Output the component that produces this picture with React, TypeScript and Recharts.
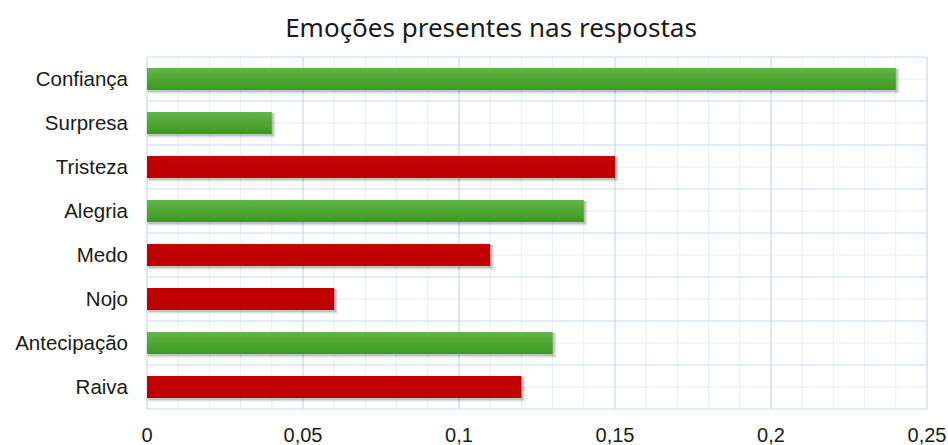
import { Bar, BarChart, CartesianGrid, XAxis, YAxis } from 'recharts'

const categories = ['Confiança', 'Surpresa', 'Tristeza', 'Alegria', 'Medo', 'Nojo', 'Antecipação', 'Raiva']
const values = [0.24, 0.04, 0.15, 0.14, 0.11, 0.06, 0.13, 0.12]
const polarity = ['pos', 'pos', 'neg', 'pos', 'neg', 'neg', 'pos', 'neg']
const majorTicks = [0, 0.05, 0.1, 0.15, 0.2, 0.25]
const minorTicks = [
  0, 0.01, 0.02, 0.03, 0.04, 0.05, 0.06, 0.07, 0.08, 0.09, 0.1, 0.11, 0.12, 0.13, 0.14, 0.15, 0.16, 0.17,
  0.18, 0.19, 0.2, 0.21, 0.22, 0.23, 0.24, 0.25,
]

const rows = categories.map((name, i) => ({ name, value: values[i], polarity: polarity[i] }))

const font = '"Liberation Sans", Arial, sans-serif'
const titleFont = '"Noto Sans", sans-serif'
const fmt = (v: number) => String(v).replace('.', ',')

if (typeof document !== 'undefined') document.body.style.margin = '0'

// x position of a value: library scale if we get it, else plot offset
function xPos(props: any, t: number) {
  const s = props?.xAxis?.scale
  if (typeof s === 'function') return s(t)
  const o = props.offset
  return o.left + (t / 0.25) * o.width
}

const minorVertical = (props: any) => minorTicks.map((t) => xPos(props, t))
const majorVertical = (props: any) => majorTicks.map((t) => xPos(props, t))
// horizontal lines: band edges (major) and band centres (minor)
const bandLines = (props: any, centre: boolean) => {
  const o = props.offset
  const step = o.height / categories.length
  const out: number[] = []
  for (let i = 0; i <= categories.length; i++) {
    if (centre && i === categories.length) break
    out.push(o.top + step * i + (centre ? step / 2 : 0))
  }
  return out
}

// bar with soft drop shadow + vertical gradient
function ShadedBar(props: any) {
  const { x, y, width, height, index, payload } = props
  if (!(width > 0)) return null
  const pos = payload?.polarity === 'pos'
  const id = 'g' + index
  const top = pos ? '#62b548' : '#c40202'
  const bottom = pos ? '#3c991e' : '#bb0000'
  return (
    <g>
      <defs>
        <linearGradient id={id} x1="0" y1="0" x2="0" y2="1">
          <stop offset="0%" stopColor={top} />
          <stop offset="100%" stopColor={bottom} />
        </linearGradient>
      </defs>
      <rect x={x + 1} y={y + 1} width={width + 3} height={height + 3} fill="#000" opacity={0.05} />
      <rect x={x + 1} y={y + 1} width={width + 2} height={height + 2} fill="#000" opacity={0.08} />
      <rect x={x + 1} y={y + 1} width={width + 1} height={height + 1} fill="#000" opacity={0.12} />
      <rect x={x} y={y} width={width} height={height} fill={`url(#${id})`} />
    </g>
  )
}

export default function App() {
  return (
    <div style={{ position: 'relative', width: 948, height: 445, background: '#fff', fontFamily: font }}>
      <div
        style={{
          position: 'absolute',
          left: 491,
          top: 9,
          transform: 'translateX(-50%)',
          fontFamily: titleFont,
          fontSize: 26,
          lineHeight: '36px',
          color: '#1a1a1a',
          whiteSpace: 'nowrap',
          zIndex: 1,
        }}
      >
        Emoções presentes nas respostas
      </div>
      <BarChart
        width={948}
        height={445}
        layout="vertical"
        data={rows}
        margin={{ top: 57, right: 21, bottom: 0, left: 0 }}
      >
        <CartesianGrid
          stroke="#e6eef8"
          verticalCoordinatesGenerator={minorVertical}
          horizontalCoordinatesGenerator={(p: any) => bandLines(p, true)}
        />
        <CartesianGrid
          stroke="#c9d9ee"
          verticalCoordinatesGenerator={majorVertical}
          horizontalCoordinatesGenerator={(p: any) => bandLines(p, false)}
        />
        <XAxis
          type="number"
          domain={[0, 0.25]}
          ticks={majorTicks}
          tickFormatter={fmt}
          axisLine={false}
          tickLine={false}
          tickSize={0}
          tickMargin={19}
          height={36}
          interval={0}
          tick={{ fill: '#1a1a1a', fontSize: 20, fontFamily: font }}
        />
        <YAxis
          type="category"
          dataKey="name"
          width={147}
          axisLine={false}
          tickLine={false}
          tickSize={0}
          tickMargin={19}
          interval={0}
          tick={{ fill: '#1a1a1a', fontSize: 20.5, fontFamily: font }}
        />
        <Bar dataKey="value" barSize={22} fill="#c00000" isAnimationActive={false} shape={ShadedBar} />
      </BarChart>
    </div>
  )
}
